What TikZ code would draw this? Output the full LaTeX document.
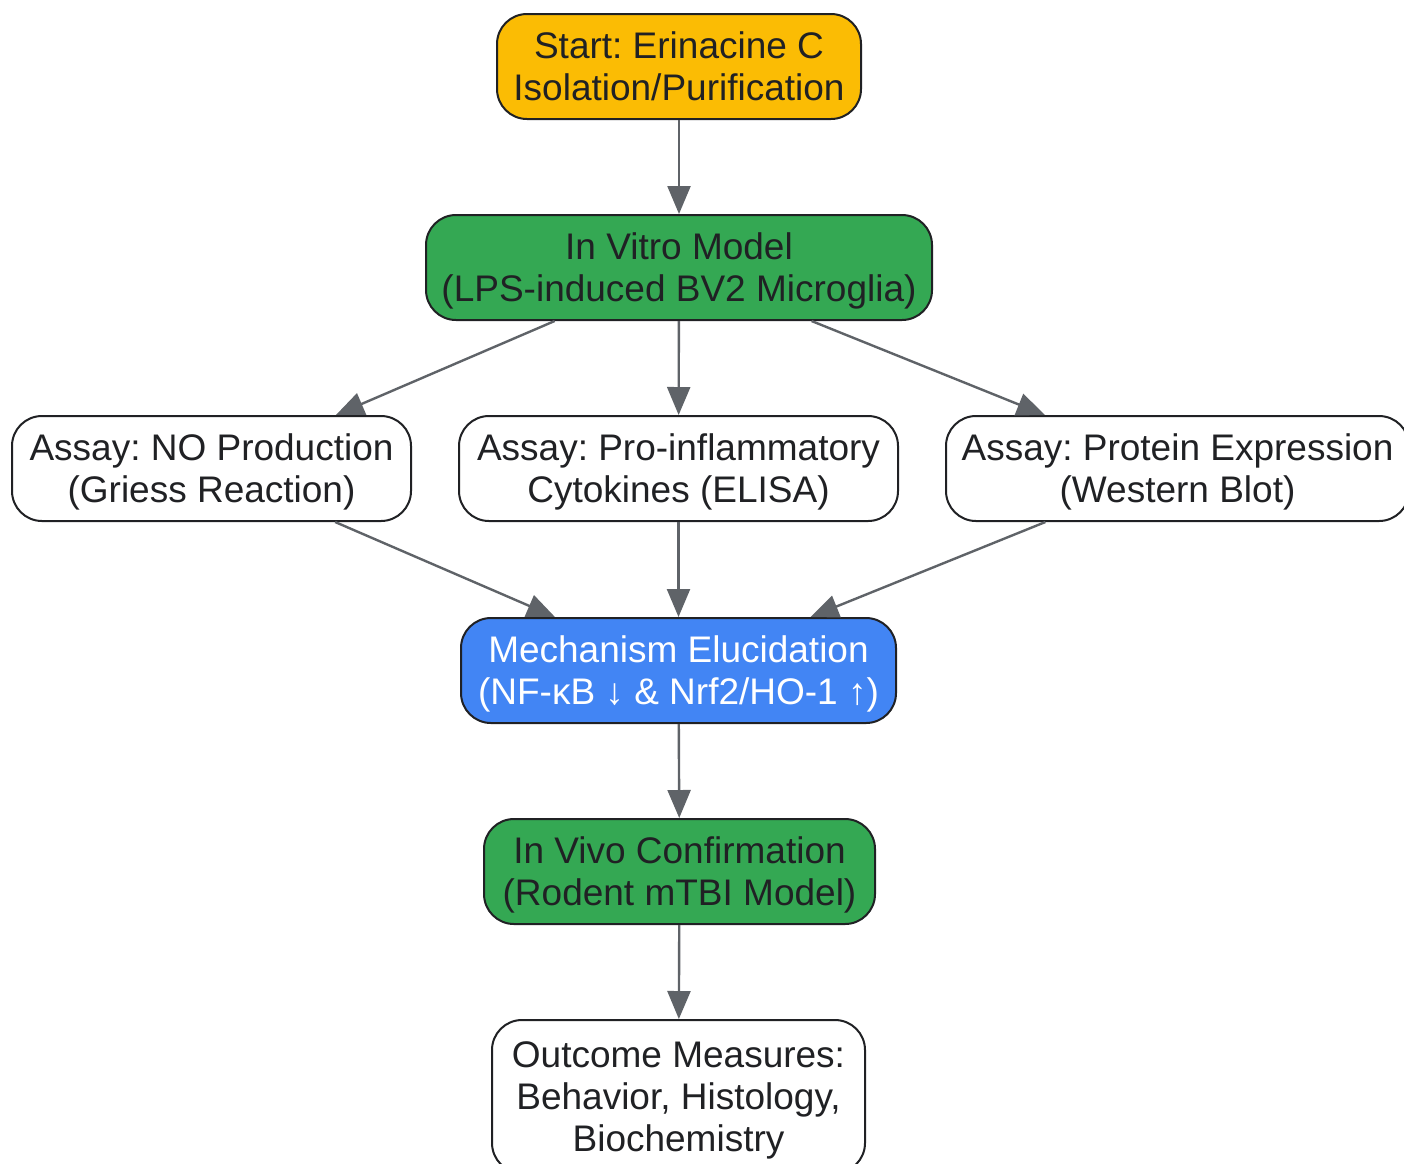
\documentclass[tikz,border=0pt]{standalone}
\usepackage{fontspec}
\setmainfont{Liberation Sans}
\usetikzlibrary{arrows.meta}
\frenchspacing

\definecolor{startyellow}{HTML}{FBBC04}
\definecolor{modelgreen}{HTML}{34A853}
\definecolor{mechblue}{HTML}{4285F4}
\definecolor{edgegray}{HTML}{5F6368}
\definecolor{inkdark}{HTML}{202124}

\begin{document}
\begin{tikzpicture}[x=1pt, y=-1pt,
    box/.style={draw=inkdark, line width=2pt, rounded corners=30pt, align=center,
        text=inkdark, inner sep=0pt, minimum height=105pt, text depth=0pt,
        font=\fontsize{37}{42}\selectfont},
    flow/.style={draw=edgegray, line width=2.4pt, -{Triangle[length=28pt, width=23pt]}}]
    \useasboundingbox (0,0) rectangle (1404,1163);

    \node[box, fill=startyellow, minimum width=364pt] (start) at (679,66.5) {Start: Erinacine C\\Isolation/Purification};
    \node[box, fill=modelgreen, minimum width=506pt] (invitro) at (679,267.5) {In Vitro Model\\(LPS-induced BV2 Microglia)};
    \node[box, fill=white, minimum width=399pt] (noassay) at (211.5,468.5) {Assay: NO Production\\(Griess Reaction)};
    \node[box, fill=white, minimum width=439pt] (cytoassay) at (678.5,468.5) {Assay: Pro-inflammatory\\Cytokines (ELISA)};
    \node[box, fill=white, minimum width=463pt] (protassay) at (1177.5,468.5) {Assay: Protein Expression\\(Western Blot)};
    \node[box, fill=mechblue, text=white, minimum width=435pt] (mech) at (678.5,670.5) {Mechanism Elucidation\\(NF-κB ↓ \& Nrf2/HO-1 ↑)};
    \node[box, fill=modelgreen, minimum width=391pt] (invivo) at (679.5,871.5) {In Vivo Confirmation\\(Rodent mTBI Model)};
    \node[box, fill=white, minimum width=373pt, minimum height=153pt] (outcome) at (678.5,1096.5) {Outcome Measures:\\Behavior, Histology,\\Biochemistry};

    \draw[flow] (start) -- (invitro);
    \draw[flow] (invitro) -- (noassay);
    \draw[flow] (invitro) -- (cytoassay);
    \draw[flow] (invitro) -- (protassay);
    \draw[flow] (noassay) -- (mech);
    \draw[flow] (cytoassay) -- (mech);
    \draw[flow] (protassay) -- (mech);
    \draw[flow] (mech) -- (invivo);
    \draw[flow] (invivo) -- (outcome);
\end{tikzpicture}
\end{document}
